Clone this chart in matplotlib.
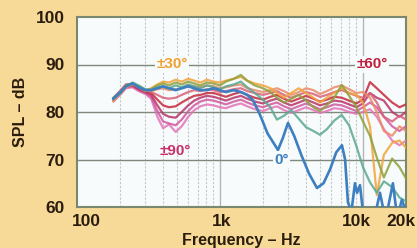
import numpy as np
import matplotlib
matplotlib.use("Agg")
import matplotlib.pyplot as plt
from matplotlib.transforms import ScaledTranslation, blended_transform_factory

plt.rcParams['font.family'] = ['Liberation Sans', 'DejaVu Sans']

# common frequency grid for the off-axis curves (Hz)
freq = [180, 200, 220, 245, 270, 300, 330, 365, 400, 440, 490, 540, 600, 660, 730,
        810, 900, 1000, 1100, 1250, 1400, 1550, 1750, 2000, 2250, 2500, 2800, 3150,
        3550, 4000, 4500, 5000, 5600, 6300, 7100, 8000, 9000, 10000, 11200, 12500,
        14000, 16000, 18000, 20000]

# 0 deg curve has its own finer grid
freq_0 = [180, 200, 220, 245, 270, 300, 330, 365, 400, 440, 490, 540, 600, 660, 730,
          810, 900, 1000, 1100, 1250, 1400, 1550, 1700, 1900, 2150, 2545, 2750, 2990,
          3300, 3700, 4200, 4770, 5300, 5900, 6500, 7130, 7500, 7850, 8300, 8790, 9100,
          9530, 10000, 10500, 11200, 12000, 12500, 13150, 14000, 15000, 16200, 17000,
          17800, 18700, 20000]
spl_0 = [82.8, 84.0, 85.4, 86.0, 85.2, 84.6, 84.6, 85.0, 85.4, 85.0, 84.6, 85.0, 85.4,
         85.0, 84.6, 84.6, 85.0, 84.6, 84.2, 84.6, 84.2, 83.6, 82.5, 79.5, 75.5, 72.0,
         74.5, 77.7, 75.0, 71.0, 67.0, 64.0, 65.0, 68.0, 71.5, 73.0, 70.0, 61.0, 59.0,
         65.0, 63.0, 64.6, 59.0, 58.0, 58.0, 58.5, 60.0, 63.0, 59.0, 60.0, 65.0, 60.0,
         59.0, 61.5, 59.0]

spl_10 = [83.0, 84.2, 85.5, 86.2, 85.6, 84.8, 84.6, 85.2, 85.4, 85.0, 85.6, 85.2, 85.8,
          85.4, 85.0, 85.6, 85.2, 84.8, 85.4, 85.8, 86.4, 85.2, 84.0, 82.6, 81.0, 78.4,
          79.2, 80.4, 78.6, 76.8, 76.0, 75.2, 76.4, 78.2, 79.4, 77.2, 72.8, 68.4, 65.2,
          63.0, 65.4, 64.2, 62.0, 61.2]
spl_20 = [82.8, 84.0, 85.6, 86.0, 85.4, 84.6, 84.8, 85.6, 86.0, 85.6, 86.2, 85.8, 86.4,
          86.0, 85.6, 86.2, 86.0, 85.6, 86.4, 87.0, 87.8, 86.6, 85.6, 85.0, 84.2, 83.0,
          82.0, 82.8, 83.6, 82.4, 81.0, 80.2, 81.4, 83.0, 85.7, 83.4, 81.0, 78.0, 75.0,
          70.4, 66.2, 70.2, 68.4, 66.0]
spl_30 = [82.4, 83.8, 85.2, 85.8, 85.2, 84.4, 85.0, 85.8, 86.4, 86.2, 86.8, 86.4, 87.0,
          86.6, 86.2, 86.8, 86.4, 86.2, 86.6, 87.0, 87.4, 86.6, 86.0, 85.6, 85.0, 84.0,
          83.0, 84.0, 85.0, 84.0, 83.0, 82.0, 83.0, 84.0, 85.0, 84.0, 83.6, 82.0, 77.0,
          62.5, 71.0, 73.5, 74.0, 72.5]
spl_40 = [82.6, 84.0, 85.4, 86.0, 85.4, 84.6, 84.4, 84.8, 85.0, 84.6, 84.8, 85.0, 85.6,
          85.4, 85.2, 85.6, 85.4, 85.0, 85.2, 85.6, 85.8, 85.0, 84.6, 84.2, 84.6, 85.0,
          84.4, 83.6, 84.2, 85.0, 84.6, 83.8, 84.4, 85.2, 85.6, 84.8, 84.0, 84.2, 83.0,
          80.0, 76.0, 75.0, 77.0, 76.0]
spl_50 = [82.8, 84.2, 85.6, 86.0, 85.2, 84.6, 84.2, 83.6, 83.0, 82.8, 83.0, 83.6, 84.2,
          84.6, 84.4, 84.8, 84.6, 84.2, 84.4, 84.8, 85.0, 84.4, 84.0, 83.6, 84.0, 84.4,
          83.6, 83.0, 83.6, 84.2, 83.8, 83.2, 83.6, 84.2, 84.6, 84.0, 83.4, 83.0, 84.0,
          82.0, 79.0, 78.0, 79.2, 78.4]
spl_60 = [83.0, 84.4, 85.8, 85.8, 85.0, 84.4, 84.0, 82.6, 81.4, 81.0, 81.2, 82.0, 82.8,
          83.4, 83.6, 84.0, 84.0, 83.6, 83.2, 83.8, 84.2, 83.6, 83.0, 82.6, 83.2, 83.6,
          82.8, 82.2, 82.8, 83.4, 82.8, 82.2, 82.6, 83.2, 83.0, 82.4, 81.8, 82.6, 86.3,
          85.0, 83.6, 82.0, 81.0, 81.6]
spl_70 = [82.6, 84.0, 85.4, 85.6, 84.8, 84.2, 83.6, 81.4, 79.6, 79.0, 78.8, 80.0, 81.4,
          82.4, 83.0, 83.4, 83.2, 82.8, 82.4, 83.0, 83.4, 82.8, 82.2, 81.8, 82.4, 82.8,
          82.0, 81.4, 82.0, 82.6, 82.0, 81.4, 81.8, 82.4, 82.2, 81.6, 81.0, 81.8, 84.0,
          83.0, 82.4, 80.0, 79.0, 80.0]
spl_80 = [82.4, 83.8, 85.2, 85.4, 84.6, 84.0, 83.2, 80.2, 78.0, 77.6, 77.2, 78.4, 80.2,
          81.4, 82.2, 82.6, 82.4, 82.0, 81.6, 82.2, 82.6, 82.0, 81.4, 81.0, 81.6, 82.0,
          81.2, 80.6, 81.2, 81.8, 81.2, 80.6, 81.0, 81.6, 81.4, 80.8, 80.2, 81.0, 82.0,
          81.0, 79.0, 77.0, 76.0, 77.0]
spl_90 = [82.2, 83.6, 85.0, 85.2, 84.4, 83.8, 82.8, 79.0, 76.6, 77.4, 75.8, 77.0, 79.0,
          80.4, 81.2, 81.6, 81.4, 81.0, 80.8, 81.4, 81.8, 81.2, 80.6, 80.2, 80.8, 81.2,
          80.4, 79.8, 80.4, 81.0, 80.4, 79.8, 80.2, 80.8, 80.6, 80.0, 79.6, 80.0, 80.6,
          79.0, 76.4, 74.0, 73.0, 74.0]

angles = [90, 80, 70, 60, 50, 40, 30, 20, 10]
off_axis = [spl_90, spl_80, spl_70, spl_60, spl_50, spl_40, spl_30, spl_20, spl_10]
colors = {0: '#3d7fc0', 10: '#5aa890', 20: '#8fa03c', 30: '#f2a33a', 40: '#e98a6a',
          50: '#d9607a', 60: '#c42a3c', 70: '#b83468', 80: '#d05aa0', 90: '#e374b8'}

xticks = [100, 1000, 10000, 20000]
xticklabels = ['100', '1k', '10k', '20k']
yticks = [60, 70, 80, 90, 100]

ink = '#2b1d0e'
fig = plt.figure(figsize=(4.17, 2.48), dpi=100, facecolor='#f8da98')
ax = fig.add_axes([77 / 417, 1 - 207 / 248, 329 / 417, 190 / 248])
ax.set_facecolor('#f7fbfc')
ax.set_xscale('log')
ax.set_xlim(100, 20000)
ax.set_ylim(60, 100)

# grid
for f in [200, 300, 400, 500, 600, 700, 800, 900, 2000, 3000, 4000, 5000, 6000, 7000, 8000, 9000]:
    ax.axvline(f, color='#c4c6c8', lw=0.8, ls=(0, (2, 1.5)), zorder=1)
for f in [1000, 10000]:
    ax.axvline(f, color='#b4b8b8', lw=1.0, zorder=1)
for y in [70, 80, 90]:
    ax.axhline(y, color='#7f8a7c', lw=1.0, zorder=1)

for ang, vals in zip(angles, off_axis):
    ax.plot(freq, vals, color=colors[ang], lw=1.6, alpha=0.85, zorder=3)
ax.plot(freq_0, spl_0, color=colors[0], lw=1.9, zorder=4)

for s in ax.spines.values():
    s.set_color('#7a8870')
    s.set_linewidth(1.5)

ax.set_xticks([])
ax.set_xticks([], minor=True)
ax.set_yticks(yticks)
ax.tick_params(axis='y', length=0, pad=9, labelsize=12.5, labelcolor=ink)
for lab in ax.get_yticklabels():
    lab.set_fontweight('bold')

# x tick labels, nudged like the original
trans = blended_transform_factory(ax.transData, ax.transAxes)
nudges = [7, 1.5, -4.5, -4]
for f, lab, dx in zip(xticks, xticklabels, nudges):
    ax.text(f, -0.075, lab, transform=trans + ScaledTranslation(dx / 72, 0, fig.dpi_scale_trans),
            ha='center', va='center', fontsize=12.5, fontweight='bold', color=ink, clip_on=False)

ax.set_xlabel('Frequency – Hz', fontsize=11.5, fontweight='bold', color=ink)
ax.set_ylabel('SPL – dB', fontsize=11.5, fontweight='bold', color=ink)
ax.xaxis.set_label_coords(0.5, -0.135)
ax.yaxis.set_label_coords(-0.15, 0.5)

box = dict(facecolor='#f7fbfc', edgecolor='none', pad=1.0)
ax.text(465, 90, '±30°', color='#f0a030', fontsize=11, fontweight='bold', ha='center', va='center', bbox=box, zorder=5)
ax.text(11600, 90, '±60°', color='#c0203a', fontsize=11, fontweight='bold', ha='center', va='center', bbox=box, zorder=5)
ax.text(484, 71.8, '±90°', color='#c8306a', fontsize=11, fontweight='bold', ha='center', va='center', zorder=5)
ax.text(2700, 70, '0°', color='#3a80c0', fontsize=11, fontweight='bold', ha='center', va='center', bbox=box, zorder=5)

fig.savefig('out.png', dpi=100, facecolor=fig.get_facecolor())
